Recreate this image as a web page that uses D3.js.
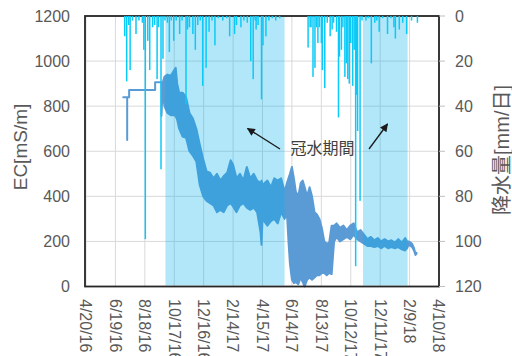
<!DOCTYPE html>
<html>
<head>
<meta charset="utf-8">
<script src="https://cdn.jsdelivr.net/npm/d3@7"></script>
<style>
  body { margin: 0; background: #fff; }
  svg { display: block; font-family: "Liberation Sans", Arial, "Noto Sans CJK JP", sans-serif; }
</style>
</head>
<body>
<div id="chart"></div>
<script>
// x axis ticks, every 60 days
var xTickDates = ["2016-04-20","2016-06-19","2016-08-18","2016-10-17","2016-12-16","2017-02-14",
  "2017-04-15","2017-06-14","2017-08-13","2017-10-12","2017-12-11","2018-02-09","2018-04-10"];
var ecTicks = [0, 200, 400, 600, 800, 1000, 1200];
var rainTicks = [0, 20, 40, 60, 80, 100, 120];

// 冠水期間 (flooded periods)
var floodStart = ["2016-09-29", "2017-11-06"];
var floodEnd = ["2017-05-30", "2018-02-05"];

// daily rainfall mm
var rainDates = ["2016-07-08","2016-07-12","2016-07-16","2016-07-19","2016-07-24","2016-07-31","2016-08-06",
  "2016-08-13","2016-08-16","2016-08-19","2016-08-24","2016-08-28","2016-09-03","2016-09-07","2016-09-12",
  "2016-09-15","2016-09-20","2016-09-24","2016-09-28","2016-10-03","2016-10-07","2016-10-11","2016-10-16",
  "2016-10-21","2016-10-28","2016-11-02","2016-11-10","2016-11-13","2016-11-17","2016-11-24","2016-11-29",
  "2016-12-04","2016-12-09","2016-12-14","2016-12-21","2016-12-27","2017-01-02","2017-01-08","2017-01-15",
  "2017-01-24","2017-02-01","2017-02-07","2017-02-17","2017-02-21","2017-03-02","2017-03-08","2017-03-15",
  "2017-03-22","2017-03-27","2017-03-31","2017-04-02","2017-04-06","2017-04-13","2017-04-16","2017-04-22",
  "2017-04-28","2017-05-05","2017-05-12","2017-05-20","2017-07-17","2017-07-21","2017-07-23","2017-07-27",
  "2017-07-31","2017-08-03","2017-08-06","2017-08-09","2017-08-13","2017-08-15","2017-08-20","2017-08-25",
  "2017-08-31","2017-09-04","2017-09-07","2017-09-13","2017-09-17","2017-09-19","2017-09-23","2017-09-26",
  "2017-09-30","2017-10-03","2017-10-06","2017-10-09","2017-10-12","2017-10-16","2017-10-19","2017-10-22",
  "2017-10-24","2017-10-26","2017-10-31","2017-11-04","2017-11-12","2017-11-17","2017-11-23","2017-11-30",
  "2017-12-04","2017-12-09","2017-12-16","2017-12-26","2018-01-02","2018-01-08","2018-01-11","2018-01-19",
  "2018-01-26","2018-02-03","2018-02-13","2018-02-25"];
var rainMm = [9,29,4,24,2,8,2,
  3,15,99,11,24,5,4,28,
  5,68,19,2,3,16,2,11,
  2,8,2,39,6,5,8,15,
  4,2,31,23,7,2,13,1,
  2,1,9,8,4,5,2,3,
  20,28,2,6,4,37,13,9,
  2,1,2,1,14,5,5,27,
  23,5,12,5,12,24,32,3,
  9,6,3,7,45,18,15,5,
  27,21,28,30,12,31,15,111,
  35,51,82,2,2,1,21,3,
  2,7,1,8,1,5,10,6,
  3,8,2,3];

// EC mS/m, upper and lower envelope of the readings
var ecDates = ["2016-07-05","2016-07-13","2016-07-13","2016-07-13","2016-07-17","2016-07-17","2016-09-08",
  "2016-09-08","2016-09-21","2016-09-21","2016-09-23","2016-09-27","2016-10-03","2016-10-10","2016-10-17",
  "2016-10-20","2016-10-23","2016-10-27","2016-11-03","2016-11-10","2016-11-17","2016-11-24","2016-12-01",
  "2016-12-08","2016-12-15","2016-12-22","2016-12-29","2017-01-05","2017-01-12","2017-01-19","2017-01-26",
  "2017-02-02","2017-02-09","2017-02-14","2017-02-21","2017-02-28","2017-03-07","2017-03-14","2017-03-21",
  "2017-03-28","2017-04-04","2017-04-11","2017-04-13","2017-04-15","2017-04-25","2017-05-02","2017-05-09",
  "2017-05-16","2017-05-23","2017-05-30","2017-06-04","2017-06-07","2017-06-10","2017-06-14","2017-06-18",
  "2017-06-22","2017-06-27","2017-07-02","2017-07-06","2017-07-10","2017-07-15","2017-07-20","2017-07-25",
  "2017-07-30","2017-08-04","2017-08-09","2017-08-14","2017-08-19","2017-08-24","2017-08-29","2017-09-03",
  "2017-09-08","2017-09-13","2017-09-20","2017-09-27","2017-10-04","2017-10-11","2017-10-18","2017-10-25",
  "2017-11-01","2017-11-08","2017-11-15","2017-11-22","2017-11-29","2017-12-06","2017-12-13","2017-12-20",
  "2017-12-27","2018-01-03","2018-01-10","2018-01-17","2018-01-24","2018-01-31","2018-02-04","2018-02-07",
  "2018-02-11","2018-02-14","2018-02-18","2018-02-21","2018-02-23"];
var ecHigh = [840,840,840,840,840,872,872,
  906,906,906,900,930,940,935,960,
  970,900,860,860,840,770,745,700,
  630,565,510,505,480,500,470,490,
  505,560,540,480,500,470,530,480,
  500,470,460,470,450,470,440,480,
  470,480,420,460,480,500,530,480,
  420,400,460,470,440,400,440,400,
  330,320,300,260,200,190,195,270,
  270,280,260,270,250,270,280,240,
  250,230,210,220,205,215,200,210,
  200,205,195,210,195,215,200,200,
  195,190,170,145,150];
var ecLow = [840,840,650,840,840,872,872,
  906,906,758,870,800,770,760,760,
  755,740,700,665,660,600,580,555,
  450,400,380,370,360,330,340,330,
  360,370,355,330,360,370,350,340,
  350,330,240,185,300,270,290,300,
  280,330,300,320,200,100,30,15,
  20,10,40,20,0,30,40,30,
  40,50,50,60,60,50,60,55,
  200,220,200,210,220,210,230,210,
  200,190,180,180,175,180,170,180,
  170,175,170,175,165,160,170,185,
  180,175,160,140,145];

var W = 512, H = 356;
var plotL = 86, plotR = 439, plotT = 16, plotB = 286.5;
var parse = d3.utcParse("%Y-%m-%d");
var fmt = d3.utcFormat("%-m/%-d/%y");
var grey = "#595959";

var svg = d3.select("#chart").append("svg")
  .attr("width", W)
  .attr("height", H);

var x = d3.scaleUtc()
  .domain([parse(xTickDates[0]), parse(xTickDates[xTickDates.length - 1])])
  .range([plotL, plotR]);
var yEc = d3.scaleLinear().domain([0, 1200]).range([plotB, plotT]);
var yRain = d3.scaleLinear().domain([0, 120]).range([plotT, plotB]);

// grid
svg.append("g").selectAll("line").data(ecTicks).join("line")
  .attr("x1", plotL).attr("x2", plotR)
  .attr("y1", d => yEc(d)).attr("y2", d => yEc(d))
  .attr("stroke", "#d9d9d9").attr("stroke-width", 1);
svg.append("g").selectAll("line").data(xTickDates).join("line")
  .attr("x1", d => x(parse(d))).attr("x2", d => x(parse(d)))
  .attr("y1", plotT).attr("y2", plotB)
  .attr("stroke", "#d9d9d9").attr("stroke-width", 1);

// EC band
var ec = ecDates.map((d, i) => ({ date: parse(d), hi: ecHigh[i], lo: ecLow[i] }));
var band = d3.area()
  .x(d => x(d.date))
  .y0(d => yEc(d.lo))
  .y1(d => yEc(d.hi));
svg.append("path")
  .datum(ec)
  .attr("d", band)
  .attr("fill", "#5b9bd5")
  .attr("stroke", "#5b9bd5")
  .attr("stroke-width", 2)
  .attr("stroke-linejoin", "round");

// flood period shading
svg.append("g").selectAll("rect").data(floodStart).join("rect")
  .attr("x", d => x(parse(d)))
  .attr("width", (d, i) => x(parse(floodEnd[i])) - x(parse(d)))
  .attr("y", plotT + 1)
  .attr("height", plotB - plotT - 2)
  .attr("fill", "rgb(0,176,240)")
  .attr("fill-opacity", 0.3);

// frame
svg.append("rect")
  .attr("x", plotL - 1).attr("y", plotT)
  .attr("width", plotR - plotL + 1).attr("height", plotB - plotT)
  .attr("fill", "none").attr("stroke", "#262626").attr("stroke-width", 1.8);

// rainfall bars hanging from the top
svg.append("g").selectAll("rect").data(rainDates).join("rect")
  .attr("x", d => x(parse(d)) - 0.75)
  .attr("width", 1.5)
  .attr("y", plotT)
  .attr("height", (d, i) => yRain(rainMm[i]) - plotT)
  .attr("fill", "#0ccaf7");

// left axis labels
svg.append("g").selectAll("text").data(ecTicks).join("text")
  .attr("x", 70).attr("y", d => yEc(d))
  .attr("dy", "0.35em")
  .attr("text-anchor", "end")
  .attr("font-size", 16)
  .attr("fill", grey)
  .text(d => d);

// right axis ticks and labels
svg.append("g").selectAll("line").data(rainTicks).join("line")
  .attr("x1", plotR).attr("x2", plotR + 6)
  .attr("y1", d => yRain(d)).attr("y2", d => yRain(d))
  .attr("stroke", "#bfbfbf");
svg.append("g").selectAll("text").data(rainTicks).join("text")
  .attr("x", 455).attr("y", d => yRain(d))
  .attr("dy", "0.35em")
  .attr("font-size", 16)
  .attr("fill", grey)
  .text(d => d);

// x labels rotated
svg.append("g").selectAll("text").data(xTickDates).join("text")
  .attr("transform", d => "translate(" + x(parse(d)) + ",299) rotate(90)")
  .attr("dy", "0.35em")
  .attr("font-size", 16)
  .attr("fill", grey)
  .text(d => fmt(parse(d)));

// axis titles
svg.append("text")
  .attr("transform", "translate(20,147) rotate(-90)")
  .attr("dy", "0.35em")
  .attr("text-anchor", "middle")
  .attr("font-size", 19)
  .attr("fill", grey)
  .text("EC[mS/m]");
svg.append("text")
  .attr("transform", "translate(502,150) rotate(-90)")
  .attr("dy", "0.35em")
  .attr("text-anchor", "middle")
  .attr("font-size", 20)
  .attr("fill", grey)
  .text("降水量[mm/日]");

// annotation
svg.append("defs").append("marker")
  .attr("id", "head")
  .attr("viewBox", "0 0 10 10")
  .attr("refX", 9).attr("refY", 5)
  .attr("markerWidth", 10).attr("markerHeight", 8)
  .attr("markerUnits", "userSpaceOnUse")
  .attr("orient", "auto")
  .append("path").attr("d", "M0,0L10,5L0,10Z").attr("fill", "#1a1a1a");

var arrows = [[280, 149, 247.5, 128.5], [369, 149, 387.5, 124]];
svg.append("g").selectAll("line").data(arrows).join("line")
  .attr("x1", d => d[0]).attr("y1", d => d[1])
  .attr("x2", d => d[2]).attr("y2", d => d[3])
  .attr("stroke", "#1a1a1a").attr("stroke-width", 1.3)
  .attr("marker-end", "url(#head)");

svg.append("text")
  .attr("x", 322.5).attr("y", 148)
  .attr("dy", "0.35em")
  .attr("text-anchor", "middle")
  .attr("font-size", 16)
  .attr("font-family", "'Noto Sans CJK JP', sans-serif")
  .attr("fill", "#404040")
  .text("冠水期間");
</script>
</body>
</html>
